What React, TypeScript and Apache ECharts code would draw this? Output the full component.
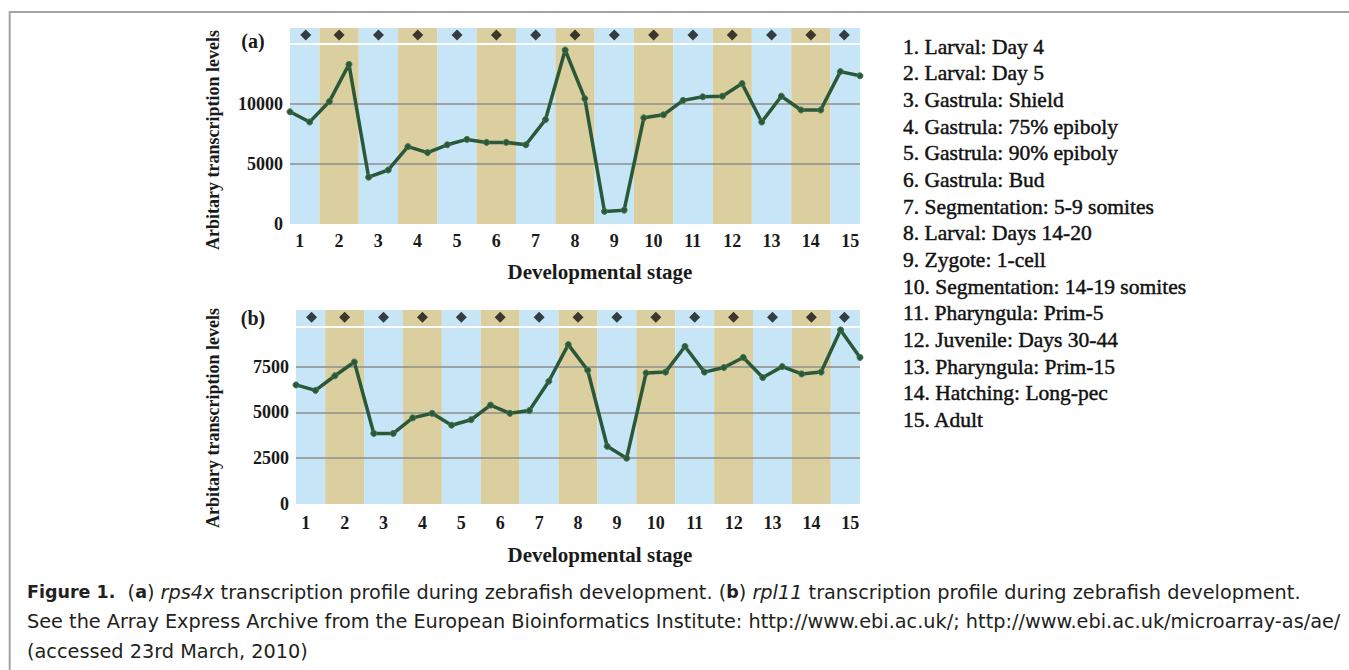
import React, { useEffect, useRef } from "react";
import * as echarts from "echarts";

// ---- data ----
const stageLabels = ["1", "2", "3", "4", "5", "6", "7", "8", "9", "10", "11", "12", "13", "14", "15"];
const stageNames = [
  "Larval: Day 4",
  "Larval: Day 5",
  "Gastrula: Shield",
  "Gastrula: 75% epiboly",
  "Gastrula: 90% epiboly",
  "Gastrula: Bud",
  "Segmentation: 5-9 somites",
  "Larval: Days 14-20",
  "Zygote: 1-cell",
  "Segmentation: 14-19 somites",
  "Pharyngula: Prim-5",
  "Juvenile: Days 30-44",
  "Pharyngula: Prim-15",
  "Hatching: Long-pec",
  "Adult",
];
const pointIndex = [0, 1, 2, 3, 4, 5, 6, 7, 8, 9, 10, 11, 12, 13, 14, 15, 16, 17, 18, 19, 20, 21, 22, 23, 24, 25, 26, 27, 28, 29];
const rps4x = [9350, 8500, 10200, 13300, 3900, 4500, 6450, 5950, 6600, 7050, 6800, 6800, 6600, 8700, 14500, 10450, 1050, 1150, 8850, 9100, 10300, 10600, 10650, 11700, 8500, 10650, 9500, 9500, 12700, 12350];
const rpl11 = [6500, 6200, 7000, 7750, 3850, 3850, 4700, 4950, 4300, 4600, 5400, 4950, 5100, 6700, 8700, 7300, 3150, 2500, 7150, 7200, 8600, 7200, 7450, 8000, 6900, 7500, 7100, 7200, 9500, 8000];
const yTicksA = [0, 5000, 10000];
const yTicksB = [0, 2500, 5000, 7500];
const gridLinesA = [5000, 10000];
const gridLinesB = [2500, 5000, 7500];
const headerLineA = 15000;
const headerLineB = 9650;
const yMaxA = 16333;
const yMaxB = 10590;
const markerPos = [0.8, 2.5, 4.5, 6.5, 8.5, 10.5, 12.5, 14.5, 16.5, 18.5, 20.5, 22.5, 24.5, 26.5, 28.2];
const markerLevelA = 15750;
const markerLevelB = 10200;

const BLUE = "#c6e6f8";
const TAN = "#dccf9f";
const LINE = "#2b5838";
const SERIF = "'Liberation Serif', 'Times New Roman', serif";
const SANS = "'DejaVu Sans', sans-serif";

function bands() {
  const last = pointIndex[pointIndex.length - 1];
  return stageLabels.map((_, k) => [
    { xAxis: Math.max(0, 2 * k - 0.5), itemStyle: { color: k % 2 === 0 ? BLUE : TAN } },
    { xAxis: Math.min(last, 2 * k + 1.5) },
  ]);
}

function panelSeries(idx: number, values: number[], lines: number[], header: number, markerLevel: number) {
  return [
    {
      type: "line",
      xAxisIndex: idx,
      yAxisIndex: idx,
      data: [],
      silent: true,
      z: 1,
      markArea: { silent: true, z: 1, data: bands() },
      markLine: {
        silent: true,
        z: 2,
        symbol: ["none", "none"],
        label: { show: false },
        data: [
          ...lines.map((v) => ({ yAxis: v, lineStyle: { color: "#8e8e8e", width: 1.5, type: "solid" } })),
          { yAxis: header, lineStyle: { color: "#ffffff", width: 2, type: "solid" } },
        ],
      },
    },
    {
      type: "line",
      xAxisIndex: idx,
      yAxisIndex: idx,
      z: 4,
      data: values.map((v, i) => [pointIndex[i], v]),
      symbol: "circle",
      symbolSize: 6,
      lineStyle: { color: LINE, width: 3.5 },
      itemStyle: { color: LINE, borderColor: "#3f7650", borderWidth: 1 },
    },
    {
      type: "scatter",
      xAxisIndex: idx,
      yAxisIndex: idx,
      z: 4,
      data: markerPos.map((x) => [x, markerLevel]),
      symbol: "diamond",
      symbolSize: [11, 11],
      itemStyle: { color: "#111111" },
    },
  ];
}

const tickLabelStyle = {
  fontSize: 18,
  fontWeight: "bold",
  fontFamily: SERIF,
  color: "#1a1a1a",
};

const CAP_REG = 19.3;
const CAP_BOLD = 17.5;

export default function App() {
  const ref = useRef<HTMLDivElement>(null);
  useEffect(() => {
    if (!ref.current) return;
    const chart = echarts.init(ref.current, undefined, { renderer: "svg" });

    const captionRich = {
      n: { fontSize: CAP_REG, fontFamily: SANS, fill: "#231f20" },
      b: { fontSize: CAP_BOLD, fontFamily: SANS, fontWeight: "bold", fill: "#231f20" },
      i: { fontSize: CAP_REG, fontFamily: SANS, fontStyle: "italic", fill: "#231f20" },
    };

    const option: any = {
      animation: false,
      backgroundColor: "#ffffff",
      grid: [
        { left: 290, top: 28, width: 570, height: 196 },
        { left: 296, top: 310, width: 564, height: 194 },
        { left: 280, top: 28, width: 589.8, height: 196 },
        { left: 286.3, top: 310, width: 583.5, height: 194 },
      ],
      xAxis: [
        { type: "value", gridIndex: 0, min: 0, max: 29, show: false },
        { type: "value", gridIndex: 1, min: 0, max: 29, show: false },
        {
          type: "category",
          gridIndex: 2,
          data: stageLabels,
          axisLine: { show: false },
          axisTick: { show: false },
          axisLabel: { ...tickLabelStyle, margin: 8, interval: 0 },
        },
        {
          type: "category",
          gridIndex: 3,
          data: stageLabels,
          axisLine: { show: false },
          axisTick: { show: false },
          axisLabel: { ...tickLabelStyle, margin: 10, interval: 0 },
        },
      ],
      yAxis: [
        {
          type: "value",
          gridIndex: 0,
          min: 0,
          max: yMaxA,
          interval: 5000,
          splitLine: { show: false },
          axisLine: { show: false },
          axisTick: { show: false },
          axisLabel: {
            ...tickLabelStyle,
            margin: 7,
            formatter: (v: number) => (yTicksA.includes(v) ? String(v) : ""),
          },
        },
        {
          type: "value",
          gridIndex: 1,
          min: 0,
          max: yMaxB,
          interval: 2500,
          splitLine: { show: false },
          axisLine: { show: false },
          axisTick: { show: false },
          axisLabel: {
            ...tickLabelStyle,
            margin: 7,
            formatter: (v: number) => (yTicksB.includes(v) ? String(v) : ""),
          },
        },
        { type: "value", gridIndex: 2, show: false },
        { type: "value", gridIndex: 3, show: false },
      ],
      series: [
        ...panelSeries(0, rps4x, gridLinesA, headerLineA, markerLevelA),
        ...panelSeries(1, rpl11, gridLinesB, headerLineB, markerLevelB),
      ],
      graphic: [
        { type: "line", silent: true, shape: { x1: 9.7, y1: 12, x2: 1349, y2: 12 }, style: { stroke: "#a3a3a3", lineWidth: 2 } },
        { type: "line", silent: true, shape: { x1: 9.7, y1: 11, x2: 9.7, y2: 670 }, style: { stroke: "#a3a3a3", lineWidth: 2 } },
        {
          type: "text", x: 253, y: 41,
          style: { text: "(a)", fontSize: 20, fontWeight: "bold", fontFamily: SERIF, fill: "#1a1a1a", align: "center", verticalAlign: "middle" },
        },
        {
          type: "text", x: 253, y: 318,
          style: { text: "(b)", fontSize: 20, fontWeight: "bold", fontFamily: SERIF, fill: "#1a1a1a", align: "center", verticalAlign: "middle" },
        },
        {
          type: "text", x: 213, y: 140, rotation: Math.PI / 2,
          style: { text: "Arbitary transcription levels", fontSize: 18, fontWeight: "bold", fontFamily: SERIF, fill: "#1a1a1a", align: "center", verticalAlign: "middle" },
        },
        {
          type: "text", x: 213, y: 418, rotation: Math.PI / 2,
          style: { text: "Arbitary transcription levels", fontSize: 18, fontWeight: "bold", fontFamily: SERIF, fill: "#1a1a1a", align: "center", verticalAlign: "middle" },
        },
        {
          type: "text", x: 600, y: 272,
          style: { text: "Developmental stage", fontSize: 21, fontWeight: "bold", fontFamily: SERIF, fill: "#1a1a1a", align: "center", verticalAlign: "middle" },
        },
        {
          type: "text", x: 600, y: 555,
          style: { text: "Developmental stage", fontSize: 21, fontWeight: "bold", fontFamily: SERIF, fill: "#1a1a1a", align: "center", verticalAlign: "middle" },
        },
        ...stageNames.map((name, i) => ({
          type: "text",
          x: 903,
          y: 46.7 + i * 26.67,
          style: {
            text: `${i + 1}. ${name}`,
            fontSize: 21.5,
            fontFamily: SERIF,
            fill: "#111111",
            stroke: "#111111",
            lineWidth: 0.45,
            align: "left",
            verticalAlign: "middle",
          },
        })),
        {
          type: "text", x: 27, y: 592,
          style: {
            text: "{b|Figure 1.}{n|  (}{b|a}{n|) }{i|rps4x}{n| transcription profile during zebrafish development. (}{b|b}{n|) }{i|rpl11}{n| transcription profile during zebrafish development.}",
            rich: captionRich, fontSize: CAP_REG, fontFamily: SANS, fill: "#231f20", align: "left", verticalAlign: "middle",
          },
        },
        {
          type: "text", x: 27, y: 621.5,
          style: {
            text: "See the Array Express Archive from the European Bioinformatics Institute: http://www.ebi.ac.uk/; http://www.ebi.ac.uk/microarray-as/ae/",
            fontSize: CAP_REG, fontFamily: SANS, fill: "#231f20", align: "left", verticalAlign: "middle",
          },
        },
        {
          type: "text", x: 27, y: 651,
          style: { text: "(accessed 23rd March, 2010)", fontSize: CAP_REG, fontFamily: SANS, fill: "#231f20", align: "left", verticalAlign: "middle" },
        },
      ],
    };
    chart.setOption(option);
    return () => chart.dispose();
  }, []);
  return (
    <div
      ref={ref}
      style={{ position: "fixed", left: 0, top: 0, width: 1349, height: 670, background: "#fff" }}
    />
  );
}
